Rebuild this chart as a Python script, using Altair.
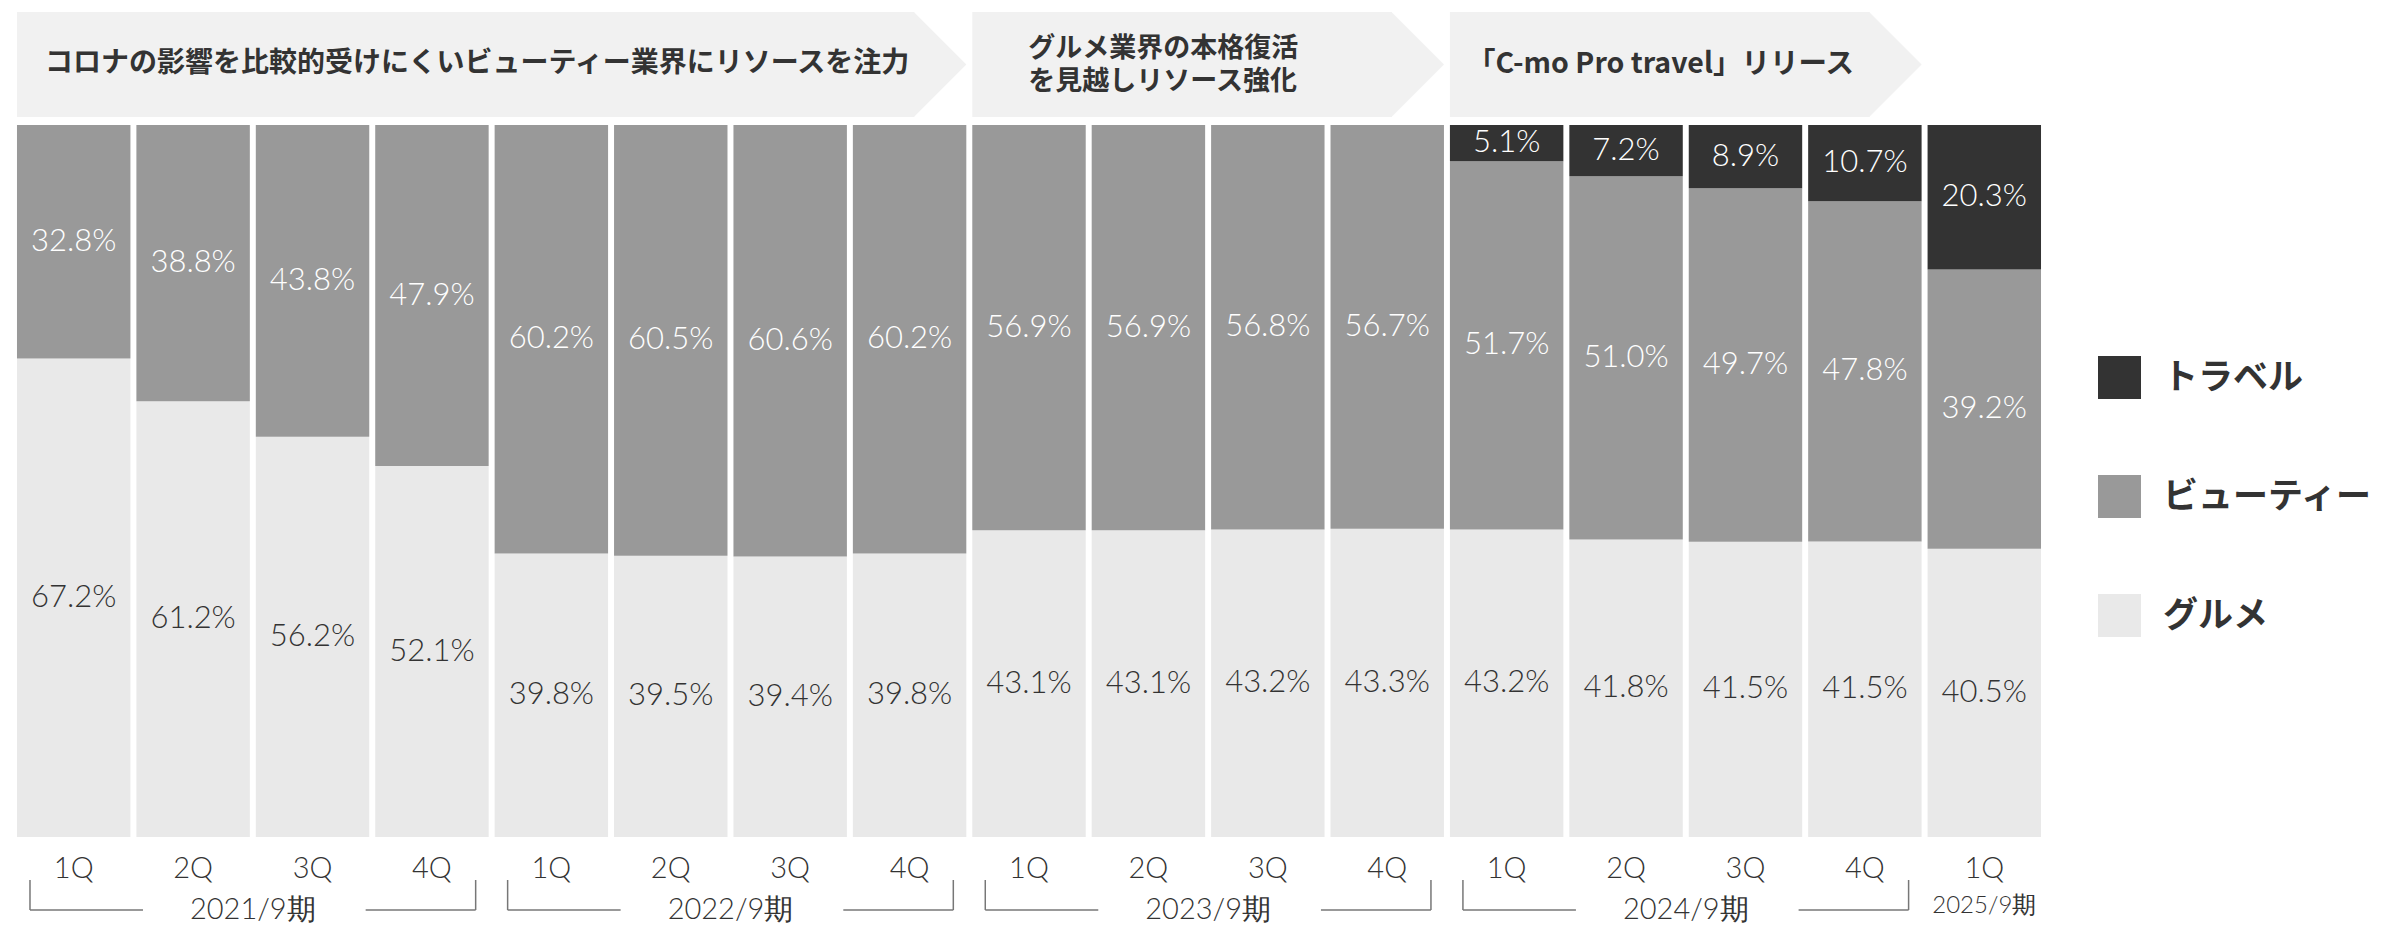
import altair as alt
import pandas as pd

JP = "Noto Sans CJK JP"
NUM = "Lato"

# ---- data ----
fiscal_years = ["2021/9期"] * 4 + ["2022/9期"] * 4 + ["2023/9期"] * 4 + ["2024/9期"] * 4 + ["2025/9期"]
quarters = ["1Q", "2Q", "3Q", "4Q"] * 4 + ["1Q"]
gourmet = [67.2, 61.2, 56.2, 52.1, 39.8, 39.5, 39.4, 39.8, 43.1, 43.1, 43.2, 43.3, 43.2, 41.8, 41.5, 41.5, 40.5]
beauty = [32.8, 38.8, 43.8, 47.9, 60.2, 60.5, 60.6, 60.2, 56.9, 56.9, 56.8, 56.7, 51.7, 51.0, 49.7, 47.8, 39.2]
travel = [None] * 12 + [5.1, 7.2, 8.9, 10.7, 20.3]

categories = ["トラベル", "ビューティー", "グルメ"]
colors = ["#333333", "#999999", "#e9e9e9"]

banner_texts = [
    "コロナの影響を比較的受けにくいビューティー業界にリソースを注力",
    "グルメ業界の本格復活\nを見越しリソース強化",
    "「C-mo Pro travel」リリース",
]
banner_first = [0, 8, 12]
banner_last = [7, 11, 15]

year_labels = ["2021/9期", "2022/9期", "2023/9期", "2024/9期", "2025/9期"]
year_first = [0, 4, 8, 12, 16]
year_last = [3, 7, 11, 15, 16]

# ---- tables ----
keys = [f"{fy}|{q}" for fy, q in zip(fiscal_years, quarters)]
rows = []
for i, k in enumerate(keys):
    for cat, series, order in [("グルメ", gourmet, 0), ("ビューティー", beauty, 1), ("トラベル", travel, 2)]:
        v = series[i]
        if v is None:
            continue
        rows.append({"key": k, "cat": cat, "value": v, "order": order})
df = pd.DataFrame(rows)

banner_df = pd.DataFrame({"text": banner_texts, "first": banner_first, "last": banner_last, "bid": [0, 1, 2]})
year_df = pd.DataFrame({"label": year_labels, "first": year_first, "last": year_last})

# ---- scales / encodings ----
band_scale = alt.Scale(paddingInner=0.05, paddingOuter=0.025)
x_band = alt.X(
    "key:N",
    sort=keys,
    scale=band_scale,
    axis=alt.Axis(
        title=None,
        labelExpr="split(datum.value, '|')[1]",
        domain=False,
        ticks=False,
        tickSize=0,
        labelPadding=31,
        labelBaseline="middle",
        labelFont=NUM,
        labelFontSize=29,
        labelFontWeight=300,
        labelColor="#333333",
        labelAngle=0,
    ),
)
x_band_noaxis = alt.X("key:N", sort=keys, scale=band_scale, axis=None)
y_scale = alt.Scale(domain=[0, 1], nice=False, zero=False)
xq = alt.Scale(domain=[-0.025, 16.975], nice=False, zero=False)

base = (
    alt.Chart(df)
    .transform_stack(
        stack="value",
        groupby=["key"],
        as_=["v0", "v1"],
        offset="normalize",
        sort=[alt.SortField("order", order="ascending")],
    )
    .transform_calculate(mid="(datum.v0 + datum.v1) / 2", label="format(datum.value, '.1f') + '%'")
)

bars = base.mark_bar().encode(
    x=x_band,
    y=alt.Y("v0:Q", scale=y_scale, axis=None),
    y2="v1:Q",
    color=alt.Color(
        "cat:N",
        scale=alt.Scale(domain=categories, range=colors),
        legend=alt.Legend(
            title=None,
            orient="none",
            legendX=2084,
            legendY=231,
            symbolType="square",
            symbolSize=1849,
            symbolStrokeWidth=0,
            symbolOpacity=1,
            labelFont=JP,
            labelFontSize=35,
            labelFontWeight="bold",
            labelColor="#333333",
            labelOffset=22,
            rowPadding=76,
            padding=0,
            labelLimit=500,
        ),
    ),
)

pct = base.mark_text(font=NUM, fontSize=31, fontWeight=300, baseline="middle").encode(
    x=x_band_noaxis,
    y=alt.Y("mid:Q", scale=y_scale, axis=None),
    text="label:N",
    color=alt.condition("datum.cat == 'グルメ'", alt.value("#333333"), alt.value("#ffffff")),
)

# ---- banners ----
bbase = alt.Chart(banner_df).transform_calculate(x0="datum.first", x1="datum.last + 0.95")
BANNER = "#f1f1f1"
body = bbase.mark_rect(color=BANNER, x2Offset=-52).encode(
    x=alt.X("x0:Q", scale=xq, axis=None), x2="x1:Q", y=alt.value(-113), y2=alt.value(-8)
)
tip = bbase.mark_point(
    shape="M-1,-1 L0,0 L-1,1 Z", size=105 * 105, filled=True, opacity=1, color=BANNER, strokeWidth=0
).encode(x=alt.X("x1:Q", scale=xq, axis=None), y=alt.value(-60.5))


def banner_text(bid, dx, size, ypos):
    return (
        bbase.transform_filter(f"datum.bid == {bid}")
        .mark_text(
            align="left",
            baseline="middle",
            dx=dx,
            font=JP,
            fontSize=size,
            fontWeight="bold",
            color="#333333",
            lineBreak="\n",
            lineHeight=33,
        )
        .encode(x=alt.X("x0:Q", scale=xq, axis=None), y=alt.value(ypos), text="text:N")
    )


bt0 = banner_text(0, 28, 28, -61)
bt1 = banner_text(1, 56, 27, -76)
bt2 = banner_text(2, 17, 28.5, -61)

# ---- fiscal-year brackets ----
ybase = alt.Chart(year_df).transform_calculate(
    xs="datum.first", xe="datum.last + 0.95", xc="(datum.first + datum.last + 0.95) / 2"
)
br = ybase.transform_filter("datum.last > datum.first")
LINE = "#777777"
lv = br.mark_rule(xOffset=13, color=LINE, strokeWidth=1.5).encode(
    x=alt.X("xs:Q", scale=xq, axis=None), y=alt.value(755), y2=alt.value(785)
)
lh = br.mark_rule(xOffset=13, x2Offset=126, color=LINE, strokeWidth=1.5).encode(
    x=alt.X("xs:Q", scale=xq, axis=None), x2="xs:Q", y=alt.value(785)
)
rh = br.mark_rule(xOffset=-123, x2Offset=-13, color=LINE, strokeWidth=1.5).encode(
    x=alt.X("xe:Q", scale=xq, axis=None), x2="xe:Q", y=alt.value(785)
)
rv = br.mark_rule(xOffset=-13, color=LINE, strokeWidth=1.5).encode(
    x=alt.X("xe:Q", scale=xq, axis=None), y=alt.value(755), y2=alt.value(785)
)
ytext = br.mark_text(font=NUM, fontSize=29, fontWeight=300, color="#333333", baseline="middle").encode(
    x=alt.X("xc:Q", scale=xq, axis=None), y=alt.value(785), text="label:N"
)
ytext_single = (
    ybase.transform_filter("datum.last == datum.first")
    .mark_text(font=NUM, fontSize=24, fontWeight=300, color="#333333", baseline="middle")
    .encode(x=alt.X("xc:Q", scale=xq, axis=None), y=alt.value(781), text="label:N")
)

chart = (
    alt.layer(bars, pct, body, tip, bt0, bt1, bt2, lv, lh, rh, rv, ytext, ytext_single)
    .resolve_scale(x="independent")
    .properties(
        width=2030,
        height=712,
        padding={"left": 14, "top": 125, "right": 338, "bottom": 89},
        autosize=alt.AutoSizeParams(type="none"),
        background="#ffffff",
    )
    .configure_view(strokeWidth=0)
)

chart.save("out.html", embed_options={"renderer": "svg", "actions": False})
